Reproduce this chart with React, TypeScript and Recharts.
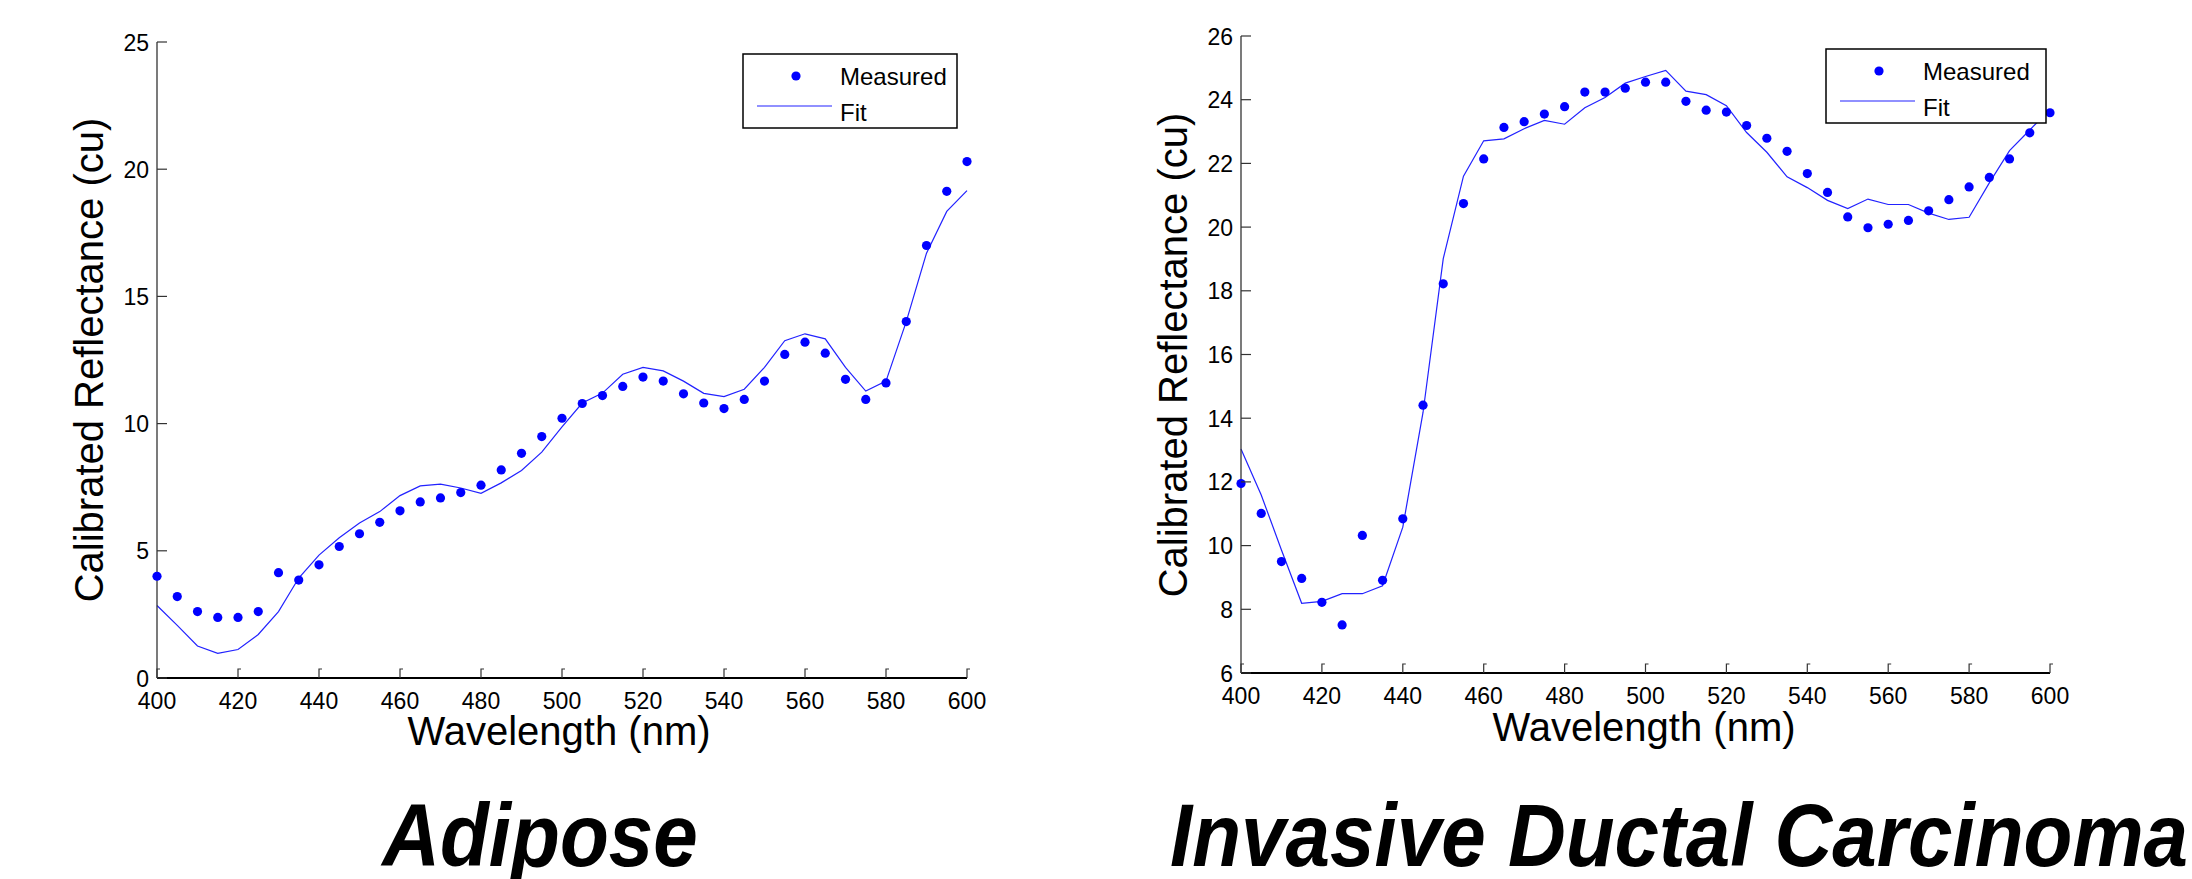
import React from 'react'
import { ComposedChart, Line, XAxis, YAxis } from 'recharts'

const wavelengths = [
  400, 405, 410, 415, 420, 425, 430, 435, 440, 445, 450, 455, 460, 465, 470, 475, 480, 485, 490, 495, 500,
  505, 510, 515, 520, 525, 530, 535, 540, 545, 550, 555, 560, 565, 570, 575, 580, 585, 590, 595, 600,
]

const adiposeMeasured = [
  4.0, 3.2, 2.61, 2.38, 2.38, 2.61, 4.14, 3.85, 4.45, 5.17, 5.67, 6.12, 6.57, 6.92, 7.08, 7.29, 7.58, 8.18,
  8.83, 9.49, 10.21, 10.79, 11.1, 11.46, 11.83, 11.67, 11.17, 10.81, 10.59, 10.95, 11.67, 12.72, 13.2, 12.77,
  11.74, 10.95, 11.6, 14.01, 17.0, 19.13, 20.3,
]
const adiposeFit = [
  2.85, 2.07, 1.26, 0.97, 1.12, 1.71, 2.61, 3.93, 4.83, 5.51, 6.09, 6.54, 7.17, 7.55, 7.62, 7.47, 7.26, 7.67,
  8.16, 8.88, 9.87, 10.81, 11.2, 11.94, 12.21, 12.07, 11.67, 11.19, 11.06, 11.35, 12.21, 13.26, 13.53, 13.33,
  12.21, 11.28, 11.67, 14.01, 16.7, 18.34, 19.16,
]

const idcMeasured = [
  11.95, 11.01, 9.5, 8.97, 8.22, 7.51, 10.32, 8.91, 10.84, 14.41, 18.22, 20.74, 22.14, 23.13, 23.31, 23.55,
  23.78, 24.24, 24.24, 24.36, 24.55, 24.55, 23.95, 23.67, 23.61, 23.19, 22.79, 22.38, 21.68, 21.09, 20.32,
  19.98, 20.09, 20.21, 20.51, 20.86, 21.26, 21.56, 22.14, 22.96, 23.59,
]
const idcFit = [
  13.03, 11.59, 9.86, 8.19, 8.25, 8.49, 8.49, 8.74, 10.58, 14.18, 19.01, 21.6, 22.71, 22.77, 23.09, 23.35,
  23.23, 23.75, 24.07, 24.52, 24.73, 24.92, 24.27, 24.16, 23.81, 22.97, 22.35, 21.58, 21.24, 20.84, 20.58,
  20.88, 20.71, 20.71, 20.44, 20.24, 20.31, 21.39, 22.4, 23.05, 23.69,
]

const xTicks = [400, 420, 440, 460, 480, 500, 520, 540, 560, 580, 600]
const adiposeYTicks = [0, 5, 10, 15, 20, 25]
const idcYTicks = [6, 8, 10, 12, 14, 16, 18, 20, 22, 24, 26]

const FONT = '"Liberation Sans", Arial, sans-serif'
const BLUE = '#0000ff'

const XTick = (props: any) => {
  const { x, y, payload } = props
  return (
    <g>
      <path d={`M${x},${y} v-9 h3`} stroke="#333" strokeWidth={1.2} fill="none" />
      <text x={x} y={y + 31} textAnchor="middle" fontSize={23} fontFamily={FONT} fill="#000">
        {payload.value}
      </text>
    </g>
  )
}

const YTick = (props: any) => {
  const { x, y, payload } = props
  return (
    <g>
      <path d={`M${x},${y} h10`} stroke="#333" strokeWidth={1.2} fill="none" />
      <text x={x - 8} y={y + 8.5} textAnchor="end" fontSize={23} fontFamily={FONT} fill="#000">
        {payload.value}
      </text>
    </g>
  )
}

function Panel({
  measured,
  fit,
  domain,
  yTicks,
  margin,
}: {
  measured: number[]
  fit: number[]
  domain: [number, number]
  yTicks: number[]
  margin: { top: number; right: number; bottom: number; left: number }
}) {
  const rows = wavelengths.map((w, i) => ({ w, measured: measured[i], fit: fit[i] }))
  return (
    <ComposedChart width={1000} height={760} data={rows} margin={margin}>
      <XAxis
        dataKey="w"
        type="number"
        domain={[400, 600]}
        ticks={xTicks}
        height={40}
        tickSize={0}
        tickMargin={0}
        tickLine={false}
        tick={<XTick />}
        axisLine={{ stroke: '#000', strokeWidth: 2 }}
        interval={0}
      />
      <YAxis
        type="number"
        domain={domain}
        ticks={yTicks}
        width={60}
        tickSize={0}
        tickMargin={0}
        tickLine={false}
        tick={<YTick />}
        axisLine={{ stroke: '#333', strokeWidth: 1.3 }}
        interval={0}
      />
      <Line dataKey="fit" stroke="#2222ff" strokeWidth={1.2} dot={false} isAnimationActive={false} />
      <Line
        dataKey="measured"
        stroke="none"
        dot={{ r: 4.6, fill: BLUE, stroke: 'none' }}
        activeDot={false}
        isAnimationActive={false}
      />
    </ComposedChart>
  )
}

function LegendBox({ x, y, w }: { x: number; y: number; w: number }) {
  return (
    <g>
      <rect x={x} y={y} width={w} height={74} fill="#fff" stroke="#000" strokeWidth={1.5} />
      <circle cx={x + 53} cy={y + 22} r={4.6} fill={BLUE} />
      <line x1={x + 14} x2={x + 89} y1={y + 52} y2={y + 52} stroke="#2222ff" strokeWidth={1.2} />
      <text x={x + 97} y={y + 31} fontSize={24} fontFamily={FONT} fill="#000">
        Measured
      </text>
      <text x={x + 97} y={y + 67} fontSize={24} fontFamily={FONT} fill="#000">
        Fit
      </text>
    </g>
  )
}

// titles in the reference are a bit taller than they are wide
function Title({ x, text }: { x: number; text: string }) {
  const base = 866
  return (
    <g transform={`translate(${x} ${base}) scale(1 1.1)`}>
      <text x={0} y={0} textAnchor="middle" fontSize={80} fontWeight="bold" fontStyle="italic" fontFamily={FONT}>
        {text}
      </text>
    </g>
  )
}

export default function App() {
  return (
    <div style={{ position: 'absolute', left: 0, top: 0, width: 2192, height: 879, background: '#fff', overflow: 'hidden' }}>
      <div style={{ position: 'absolute', left: 0, top: 0 }}>
        <Panel
          measured={adiposeMeasured}
          fit={adiposeFit}
          domain={[0, 25]}
          yTicks={adiposeYTicks}
          margin={{ top: 42, right: 33, bottom: 42, left: 97 }}
        />
      </div>
      <div style={{ position: 'absolute', left: 1100, top: 0 }}>
        <Panel
          measured={idcMeasured}
          fit={idcFit}
          domain={[6, 26]}
          yTicks={idcYTicks}
          margin={{ top: 36, right: 50, bottom: 47, left: 81 }}
        />
      </div>
      <svg
        width={2192}
        height={879}
        style={{ position: 'absolute', left: 0, top: 0, pointerEvents: 'none' }}
      >
        <LegendBox x={743} y={54} w={214} />
        <LegendBox x={1826} y={49} w={220} />
        <text
          x={89}
          y={360}
          transform="rotate(-90 89 360)"
          textAnchor="middle"
          dominantBaseline="central"
          fontSize={40}
          fontFamily={FONT}
        >
          Calibrated Reflectance (cu)
        </text>
        <text
          x={1173}
          y={355}
          transform="rotate(-90 1173 355)"
          textAnchor="middle"
          dominantBaseline="central"
          fontSize={40}
          fontFamily={FONT}
        >
          Calibrated Reflectance (cu)
        </text>
        <text x={559} y={745} textAnchor="middle" fontSize={40} fontFamily={FONT}>
          Wavelength (nm)
        </text>
        <text x={1644} y={741} textAnchor="middle" fontSize={40} fontFamily={FONT}>
          Wavelength (nm)
        </text>
        <Title x={540} text="Adipose" />
        <Title x={1679} text="Invasive Ductal Carcinoma" />
      </svg>
    </div>
  )
}
